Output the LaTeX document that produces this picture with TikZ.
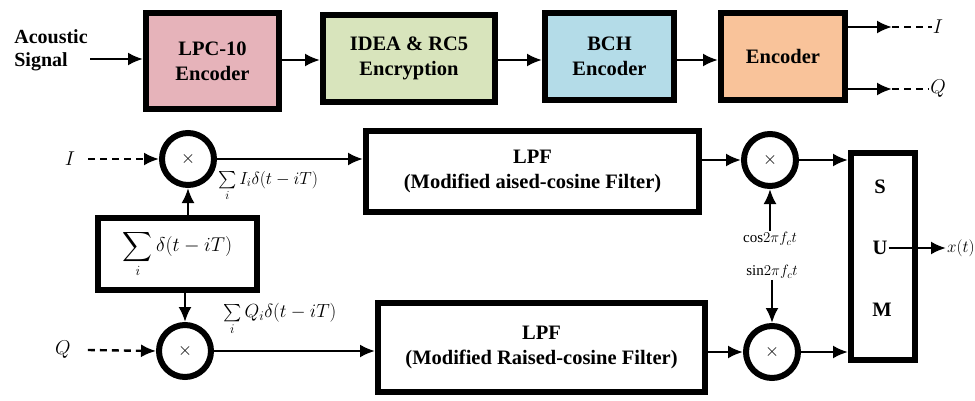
\documentclass[tikz,border=0pt]{standalone}
\usepackage{fix-cm}
\usepackage{amsmath}
\usepackage{exscale}
\usepackage{fontspec}
\setmainfont{Liberation Serif}
\usetikzlibrary{arrows.meta}
\definecolor{cpink}{HTML}{E6B3BA}
\definecolor{cgreen}{HTML}{D8E4BC}
\definecolor{cblue}{HTML}{B4DCE8}
\definecolor{cpeach}{HTML}{F9C39A}
\tikzset{
  blk/.style={draw, line width=6pt, inner sep=0pt, align=center, font=\fontsize{20.5}{25}\selectfont\bfseries},
  mult/.style={draw, circle, line width=6pt, minimum size=52pt, inner sep=0pt, font=\fontsize{18}{18}\selectfont},
  arr/.style={line width=2.4pt, -{Latex[length=15pt,width=13pt]}},
  darr/.style={line width=2.4pt, dash pattern=on 7pt off 5pt, -{Latex[length=15pt,width=13pt]}},
  dln/.style={line width=2.4pt, dash pattern=on 7pt off 5pt},
  lbl/.style={inner sep=1pt, font=\fontsize{20}{24}\selectfont},
  small/.style={inner sep=1pt, font=\fontsize{15}{18}\selectfont},
  big/.style={inner sep=1pt, font=\fontsize{19}{22}\selectfont},
  sumletter/.style={inner sep=1pt, font=\fontsize{20.5}{24}\selectfont\bfseries},
}
\begin{document}
\begin{tikzpicture}[x=1pt,y=-1pt]
\useasboundingbox (0,0) rectangle (975,400);
% top row
\node[inner sep=1pt, align=left, font=\fontsize{20}{23}\selectfont\bfseries] (ac) at (51,50) {Acoustic\\Signal};
\node[blk, fill=cpink, minimum width=133pt, minimum height=96pt] (lpc) at (212.5,61) {LPC-10\\Encoder};
\node[blk, fill=cgreen, minimum width=172pt, minimum height=87pt] (idea) at (409,58.5) {IDEA \& RC5\\Encryption};
\node[blk, fill=cblue, minimum width=129pt, minimum height=87pt] (bch) at (609.5,56.5) {BCH\\Encoder};
\node[blk, fill=cpeach, minimum width=124pt, minimum height=87pt] (enc) at (783,56.5) {Encoder};
\coordinate (acs) at (90,59);
\draw[arr] (acs) -- (acs -| lpc.west);
\draw[arr] (lpc.east |- 0,60) -- (idea.west |- 0,60);
\draw[arr] (idea.east |- 0,60) -- (bch.west |- 0,60);
\draw[arr] (bch.east |- 0,60) -- (enc.west |- 0,60);
\node[lbl] (Itop) at (938,27) {$I$};
\node[lbl] (Qtop) at (938,89) {$Q$};
\coordinate (io) at (892,27);
\coordinate (qo) at (892,89);
\draw[arr] (enc.east |- io) -- (io);
\draw[dln] (io) -- (Itop.west);
\draw[arr] (enc.east |- qo) -- (qo);
\draw[dln] (qo) -- (Qtop.west);
% bottom part
\node[mult] (mI) at (188,159) {$\times$};
\node[mult] (mQ) at (185,351) {$\times$};
\node[mult] (mC) at (770,160) {$\times$};
\node[mult] (mS) at (772,352) {$\times$};
\node[lbl] (Il) at (70,159) {$I$};
\node[lbl] (Ql) at (63,350) {$Q$};
\draw[darr] (Il.east) ++(12,0) coordinate (ia) (ia) -- (mI.west);
\draw[darr] (Ql.east) ++(16,0) coordinate (qa) (qa) -- (mQ.west);
\node[blk, minimum width=159pt, minimum height=72pt, font=\fontsize{20}{24}\selectfont] (dl) at (177.5,254) {$\displaystyle\sum_i \delta(t-iT)$};
\node[blk, minimum width=333pt, minimum height=81pt] (lpf1) at (532.5,171.5) {LPF\\(Modified aised-cosine Filter)};
\node[blk, minimum width=327pt, minimum height=89pt] (lpf2) at (541.5,347.5) {LPF\\(Modified Raised-cosine Filter)};
\node[blk, minimum width=64pt, minimum height=207pt] (sum) at (883,256.5) {};
\node[sumletter] (S) at (880,187) {S};
\node[sumletter] (U) at (880,248) {U};
\node[sumletter] (M) at (882,310) {M};
\node[small, anchor=west, font=\fontsize{17}{20}\selectfont] (xt) at (946,248) {$x(t)$};
\draw[arr] (U.east) -- (xt.west);
\draw[arr] (mI.south |- dl.north) -- (mI.south);
\draw[arr] (mQ.north |- dl.south) -- (mQ.north);
\draw[arr] (mI.east) -- (mI.east -| lpf1.west);
\draw[arr] (mQ.east) -- (mQ.east -| lpf2.west);
\draw[arr] (lpf1.east |- mC) -- (mC.west);
\draw[arr] (lpf2.east |- mS) -- (mS.west);
\draw[arr] (mC.east) -- (mC.east -| sum.west);
\draw[arr] (mS.east) -- (mS.east -| sum.west);
\node[small] (cosl) at (770,239) {$\mathrm{cos}2\pi f_c t$};
\node[small] (sinl) at (772,272) {$\mathrm{sin}2\pi f_c t$};
\draw[arr] (cosl.north) -- (mC.south);
\draw[arr] (sinl.south) -- (mS.north);
\node[big, anchor=west, font=\fontsize{17.5}{20}\selectfont] (isum) at (217,186) {$\sum\limits_i I_i\delta(t-iT)$};
\node[big, anchor=west] (qsum) at (222,319) {$\sum\limits_i Q_i\delta(t-iT)$};
\end{tikzpicture}
\end{document}
